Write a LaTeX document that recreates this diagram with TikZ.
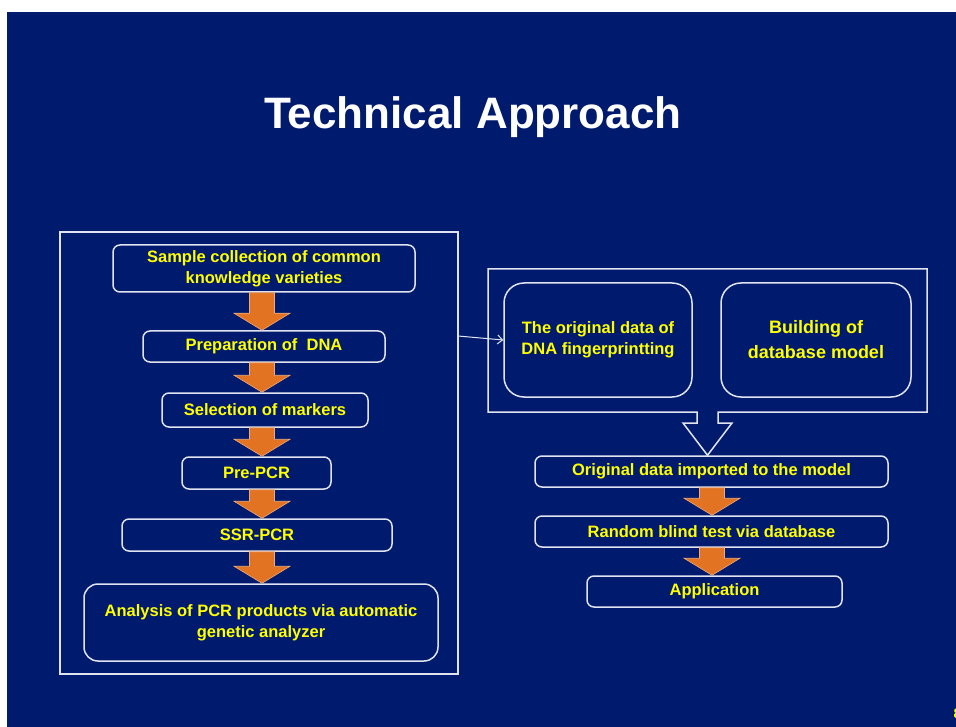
\documentclass[tikz,border=0pt]{standalone}
\usepackage{fontspec}
\setmainfont{Liberation Sans}
\usetikzlibrary{calc,arrows.meta}

\definecolor{slideblue}{RGB}{0,26,110}
\definecolor{flowarrow}{RGB}{226,115,35}
\definecolor{boxline}{RGB}{225,228,240}
\definecolor{labelyellow}{RGB}{255,255,0}

% block arrow down a column (#1) from one box (#2) to the next (#3)
\newcommand\flowdown[3]{%
  \filldraw[fill=flowarrow,draw=flowarrow!60!white,line width=0.6pt]
    ($(#2.south -| #1)+(-12.5,0)$) -- ($(#3.north -| #1)+(-12.5,-17)$)
    -- ($(#3.north -| #1)+(-28,-17)$) -- (#3.north -| #1)
    -- ($(#3.north -| #1)+(28,-17)$) -- ($(#3.north -| #1)+(12.5,-17)$)
    -- ($(#2.south -| #1)+(12.5,0)$) -- cycle;}

\begin{document}
\begin{tikzpicture}[x=1pt,y=-1pt,
    frame/.style={draw=boxline,line width=1.5pt},
    stepbox/.style={frame,rounded corners=7pt,text=labelyellow,align=center,
      inner sep=0pt,font=\bfseries\fontsize{16.5}{21}\selectfont},
    bigbox/.style={stepbox,rounded corners=20pt}]

  \useasboundingbox (0,0) rectangle (956,727);

  % Slide
  \fill[white] (0,0) rectangle (956,727);
  \fill[slideblue] (7,12) rectangle (956,727);
  \node[text=white,font=\bfseries\fontsize{44}{44}\selectfont] (title) at (473,117) {Technical Approach};
  \node[anchor=west,text=labelyellow,font=\bfseries\fontsize{14}{14}\selectfont] (pagenum) at (950,714) {8};

  % Lab workflow
  \node[frame,minimum width=398pt,minimum height=442pt] (leftframe) at (259,453) {};
  \coordinate (leftcol) at (262,0);
  \node[stepbox,minimum width=302pt,minimum height=47pt] (sample) at (264,268.5)
    {Sample collection of common\\knowledge varieties};
  \node[stepbox,minimum width=242pt,minimum height=31pt] (dna) at (264,346.5) {Preparation of\ \ DNA};
  \node[stepbox,minimum width=206pt,minimum height=34pt] (markers) at (265,410) {Selection of markers};
  \node[stepbox,minimum width=149pt,minimum height=32pt] (prepcr) at (256.5,473) {Pre-PCR};
  \node[stepbox,minimum width=270pt,minimum height=32pt] (ssrpcr) at (257,535) {SSR-PCR};
  \node[stepbox,rounded corners=14pt,minimum width=354pt,minimum height=77pt] (analysis) at (261,622.5)
    {Analysis of PCR products via automatic\\genetic analyzer};

  \flowdown{leftcol}{sample}{dna}
  \flowdown{leftcol}{dna}{markers}
  \flowdown{leftcol}{markers}{prepcr}
  \flowdown{leftcol}{prepcr}{ssrpcr}
  \flowdown{leftcol}{ssrpcr}{analysis}

  % Database side
  \node[bigbox,minimum width=188pt,minimum height=114pt] (fingerprint) at (598,340)
    {The original data of\\DNA fingerprintting};
  \node[bigbox,minimum width=190pt,minimum height=114pt,font=\bfseries\fontsize{18}{25}\selectfont] (model) at (816,340)
    {Building of\\database model};
  \coordinate (rightcol) at (712,0);
  \node[stepbox,minimum width=353pt,minimum height=31pt] (imported) at (711.5,471.5) {Original data imported to the model};
  \node[stepbox,minimum width=353pt,minimum height=31pt] (blindtest) at (711.5,531.5) {Random blind test via database};
  \node[stepbox,minimum width=255pt,minimum height=31pt] (application) at (714.5,591.5) {Application};

  % Frame with hollow arrow
  \draw[frame,line join=miter] (697,412) -- (488,412) -- (488,269) -- (927,269) -- (927,412)
    -- (718,412) -- (718,423) -- (732,423) -- ($(imported.north)+(-4,0)$)
    -- (683,423) -- (697,423) -- cycle;

  \flowdown{rightcol}{imported}{blindtest}
  \flowdown{rightcol}{blindtest}{application}

  % Link between the two parts
  \coordinate (link) at (458,336);
  \draw[draw=boxline,line width=1pt,-{Straight Barb[length=5pt,width=9pt]}] (link) -- (fingerprint.west);
\end{tikzpicture}
\end{document}
